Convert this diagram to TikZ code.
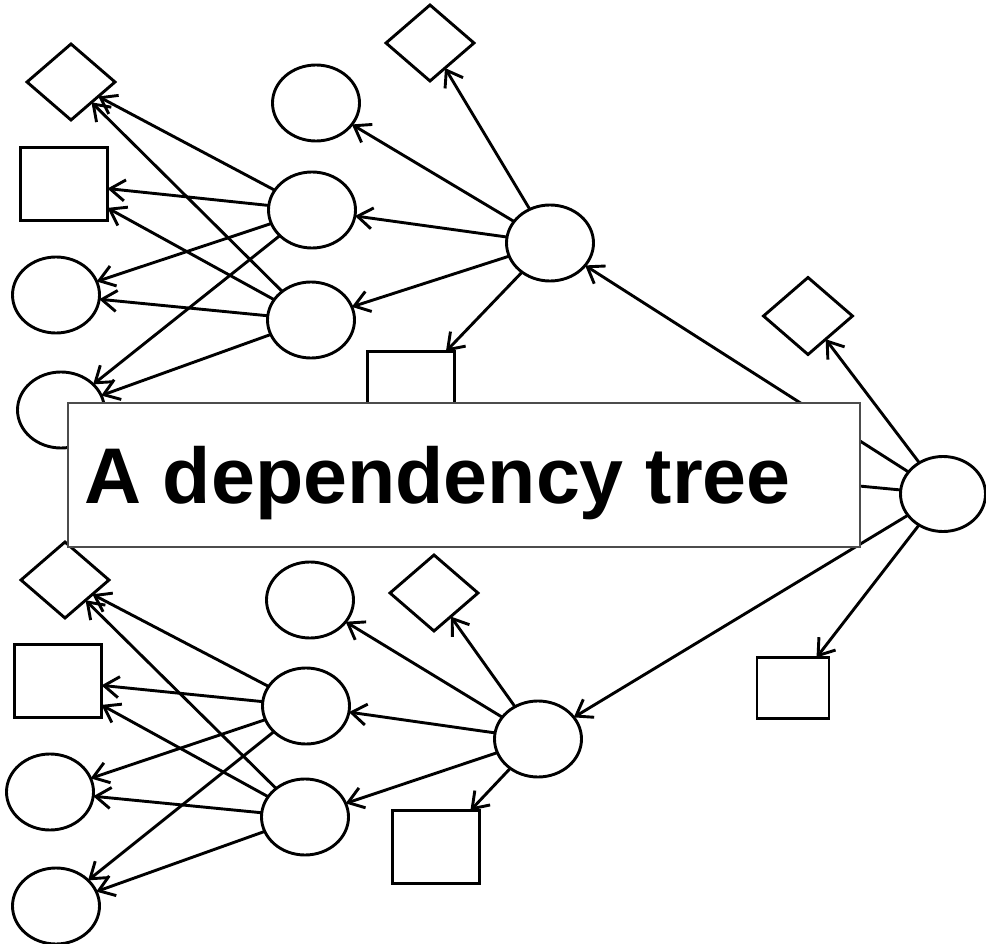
\documentclass[tikz,border=0pt]{standalone}
\usepackage{fontspec}
\newfontfamily\titlefont{Liberation Sans}
\usetikzlibrary{shapes.geometric,arrows.meta}
\begin{document}
\begin{tikzpicture}[x=1pt,y=-1pt,
  every node/.style={line width=2.9pt, inner sep=0pt, outer sep=0pt},
  ell/.style={ellipse, draw, minimum width=87pt, minimum height=76pt},
  sq/.style={rectangle, draw, minimum width=87pt, minimum height=73pt},
  smallsq/.style={rectangle, draw, minimum width=72pt, minimum height=61pt},
  dia/.style={diamond, draw, minimum width=88pt, minimum height=76pt},
  link/.style={line width=2.9pt, -{Straight Barb[length=15pt,width=21pt,line width=2.9pt]}},
  labelbox/.style={rectangle, draw=black!70, line width=2pt, fill=white,
                   minimum width=792pt, minimum height=144pt},
  labeltext/.style={font=\titlefont\bfseries\fontsize{79}{95}\selectfont, inner sep=0pt},
]
\useasboundingbox (0,0) rectangle (986,944);

% root and its direct children
\node[ell, minimum width=85pt, minimum height=75pt] (root) at (943,494) {};
\node[dia, minimum width=89pt, minimum height=77pt] (rD) at (808,316) {};
\node[smallsq] (rS) at (793,688) {};

% upper subtree
\node[ell] (U)  at (550,243) {};
\node[dia] (uD) at (430,43) {};
\node[ell] (uE) at (316,103) {};
\node[ell] (M1) at (312,210) {};
\node[ell] (M2) at (311,320) {};
\node[sq]  (uS) at (411,388) {};
\node[dia] (D1) at (71,82) {};
\node[sq]  (S1) at (64,184) {};
\node[ell] (E1) at (56,295) {};
\node[ell] (E2) at (61,410) {};

% lower subtree
\node[ell] (L)   at (538,739) {};
\node[dia] (lD)  at (434,593) {};
\node[ell] (lE)  at (310,600) {};
\node[ell] (N1)  at (306,706) {};
\node[ell] (N2)  at (305,817) {};
\node[sq]  (lS)  at (436,847) {};
\node[dia] (LD)  at (65,580) {};
\node[sq]  (LS)  at (58,681) {};
\node[ell] (LE1) at (50,792) {};
\node[ell] (LE2) at (56,906) {};

% dependency arcs
\draw[link] (root) -- (rD);
\draw[link] (root) -- (U);
\draw[link] (root) -- (E2);
\draw[link] (root) -- (L);
\draw[link] (root) -- (rS);

\draw[link] (U) -- (uD);
\draw[link] (U) -- (uE);
\draw[link] (U) -- (M1);
\draw[link] (U) -- (M2);
\draw[link] (U) -- (uS);

\foreach \m in {M1,M2}{
  \draw[link] (\m) -- (D1);
  \draw[link] (\m) -- (S1);
  \draw[link] (\m) -- (E1);
  \draw[link] (\m) -- (E2);
}

\draw[link] (L) -- (lD);
\draw[link] (L) -- (lE);
\draw[link] (L) -- (N1);
\draw[link] (L) -- (N2);
\draw[link] (L) -- (lS);

\foreach \m in {N1,N2}{
  \draw[link] (\m) -- (LD);
  \draw[link] (\m) -- (LS);
  \draw[link] (\m) -- (LE1);
  \draw[link] (\m) -- (LE2);
}

% caption box laid over the tree
\node[labelbox] (box) at (464,475) {};
\node[labeltext, anchor=base west] (title) at (84,503) {A dependency tree};
\end{tikzpicture}
\end{document}
